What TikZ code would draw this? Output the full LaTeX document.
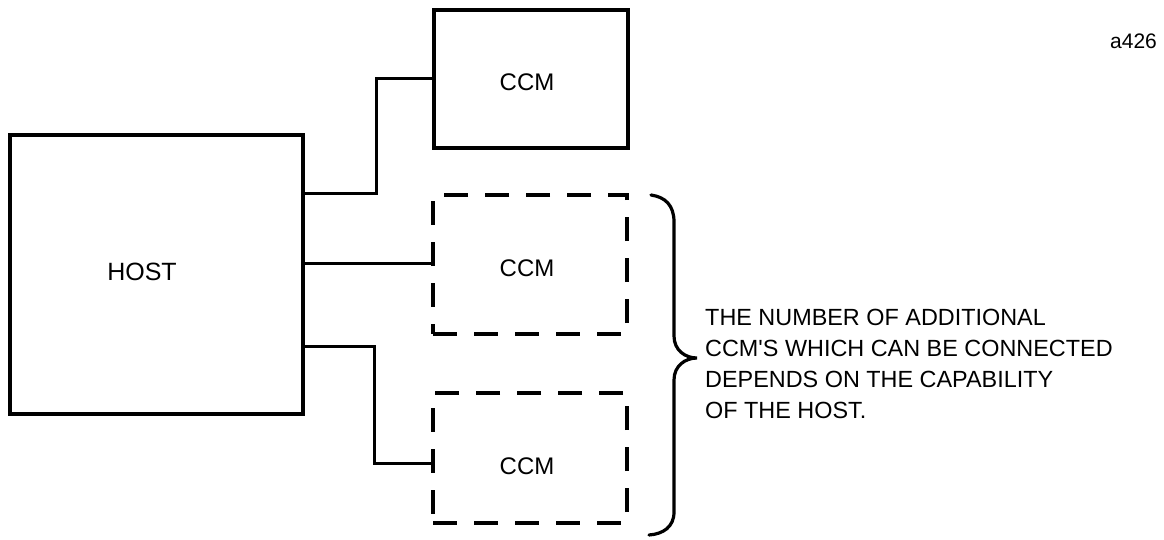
\documentclass[tikz,border=0pt]{standalone}
\usepackage{fontspec}
\setmainfont{Liberation Sans}
\begin{document}
\begin{tikzpicture}[x=1pt,y=-1pt,
  solidbox/.style={draw,line width=3.2pt,inner sep=0pt},
  dashbox/.style={draw,line width=3.2pt,inner sep=0pt,dash pattern=on 24pt off 17pt},
  wire/.style={line width=3pt},
  bracepath/.style={line width=3.2pt,line cap=round},
  boxtext/.style={inner sep=0pt,font=\fontsize{24}{28}\selectfont}]
\clip (0,0) rectangle (1164,539);
\fill[white] (0,0) rectangle (1164,539);
% boxes
\node[solidbox,minimum width=293pt,minimum height=279pt] (host) at (156.5,274.5) {};
\node[boxtext,font=\fontsize{25}{28}\selectfont] (hostlbl) at (142,272) {HOST};
\node[solidbox,minimum width=194pt,minimum height=138pt] (ccm1) at (531,79) {};
\node[boxtext] (ccm1lbl) at (527,82) {CCM};
\node[dashbox,minimum width=194pt,minimum height=139pt] (ccm2) at (530,264.5) {};
\node[boxtext] (ccm2lbl) at (527,268) {CCM};
\node[dashbox,minimum width=194pt,minimum height=130pt] (ccm3) at (530,458) {};
\node[boxtext] (ccm3lbl) at (527,466) {CCM};
% connector bend points
\coordinate (b1) at (376,193);
\coordinate (b2) at (376,78);
\coordinate (b3) at (374,346);
\coordinate (b4) at (374,463);
\coordinate (m2) at (0,263);
\draw[wire] (host.east |- b1) -- (b1) -- (b2) -- (ccm1.west |- b2);
\draw[wire] (host.east |- m2) -- (ccm2.west |- m2);
\draw[wire] (host.east |- b3) -- (b3) -- (b4) -- (ccm3.west |- b4);
% brace
\draw[bracepath] (651,195) .. controls (665,197) and (674,205) .. (674,222)
  -- (674,336) .. controls (674,350) and (685,358) .. (697,358)
  .. controls (685,358) and (674,366) .. (674,380)
  -- (674,512) .. controls (674,527) and (663,534) .. (649,535);
% note
\node[inner sep=0pt,anchor=west,align=left,font=\fontsize{23.4}{31}\selectfont] (note) at (705,363.5)
  {THE NUMBER OF ADDITIONAL\\CCM\textquotesingle S WHICH CAN BE CONNECTED\\DEPENDS ON THE CAPABILITY\\OF THE HOST.};
\node[inner sep=0pt,anchor=base west,font=\fontsize{21}{24}\selectfont] (fig) at (1110,48) {a426};
\end{tikzpicture}
\end{document}
